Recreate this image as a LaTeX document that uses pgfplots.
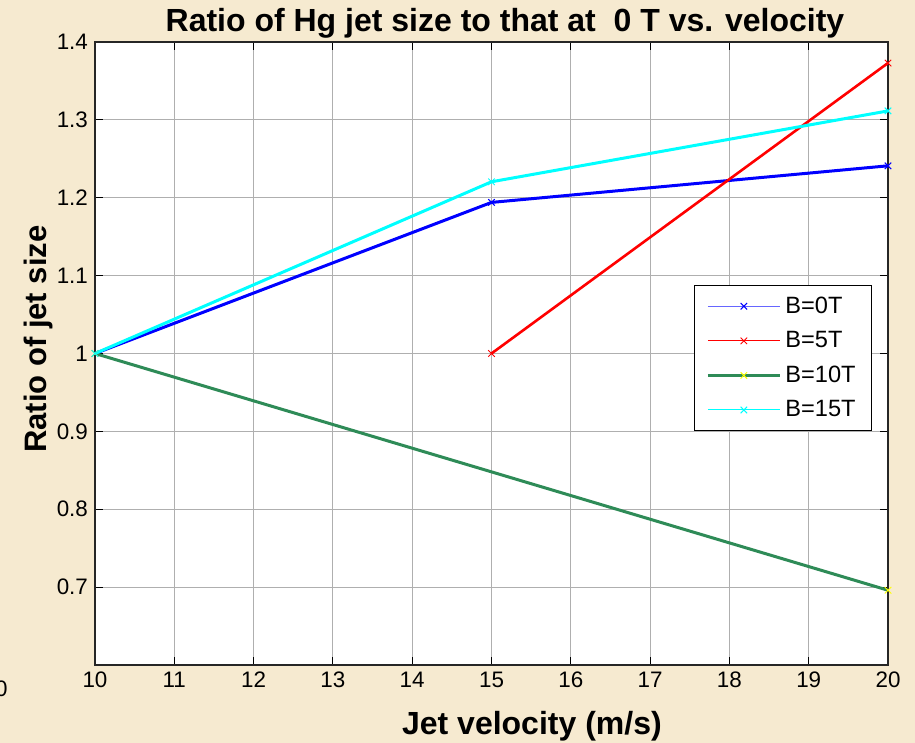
\documentclass[border=0pt]{standalone}
\usepackage{pgfplots}
\pgfplotsset{compat=1.18}
\usepackage{fontspec}
\setmainfont{Liberation Sans}
\definecolor{bgc}{RGB}{246,234,208}
\definecolor{mgreen}{RGB}{46,139,87}
\definecolor{gridc}{RGB}{175,175,175}
\definecolor{mcyan}{RGB}{0,255,255}
\definecolor{mblue}{RGB}{0,0,255}
\definecolor{mred}{RGB}{255,0,0}
\definecolor{myellow}{RGB}{255,255,0}
\begin{document}
\begin{tikzpicture}
\fill[bgc] (-47.5pt,-39pt) rectangle (410pt,332.5pt);
\begin{axis}[
  scale only axis,
  width=396.5pt, height=311.5pt,
  xmin=10, xmax=20, ymin=0.6, ymax=1.4,
  xtick={10,11,...,20},
  ytick={0.7,0.8,0.9,1.0,1.1,1.2,1.3,1.4},
  yticklabels={0.7,0.8,0.9,1,1.1,1.2,1.3,1.4},
  axis background/.style={fill=white},
  grid=major,
  major grid style={gridc, line width=0.5pt},
  tick align=inside,
  major tick length=4pt,
  tick style={black, line width=0.5pt},
  axis line style={black!85, line width=0.9pt},
  /pgf/number format/assume math mode=true,
  ticklabel style={font=\fontsize{11.2}{13}\selectfont},
  title={\textbf{Ratio of Hg jet size to that at\ \ 0 T vs. velocity}},
  title style={font=\fontsize{16}{18}\selectfont, at={(0.517,1)}, anchor=base, yshift=-1pt},
  xlabel={\textbf{Jet velocity (m/s)}},
  xlabel style={font=\fontsize{16}{18}\selectfont, at={(0.551,0)}, anchor=base, yshift=-35pt},
  ylabel={\textbf{Ratio of jet size}},
  ylabel style={font=\fontsize{15.5}{18}\selectfont, at={(0,0.523)}, anchor=base, rotate=0, yshift=24pt},
  legend style={at={(axis cs:19.8,1.088)}, anchor=north east, draw=black, line width=0.6pt,
    font=\fontsize{11.8}{13}\selectfont, inner xsep=6pt, inner ysep=3.5pt, row sep=3.6pt,
    legend cell align=left},
  legend image code/.code={\draw[#1] plot coordinates {(0pt,0pt) (18pt,0pt) (36pt,0pt)};},
]
\addplot[mblue, line width=1.5pt, mark=x, mark size=2.3pt, mark options={line width=0.5pt}, forget plot]
  coordinates {(10,1.0) (15,1.194) (20,1.241)};
\addplot[mred, line width=1.3pt, mark=x, mark size=2.3pt, mark options={line width=0.5pt}, forget plot]
  coordinates {(15,1.0) (20,1.373)};
\addplot[mgreen, line width=1.5pt, mark=x, mark size=2.3pt, mark options={myellow, line width=0.5pt}, forget plot]
  coordinates {(10,1.0) (20,0.696)};
\addplot[mcyan, line width=1.5pt, mark=x, mark size=2.3pt, mark options={line width=0.5pt}, forget plot]
  coordinates {(10,1.0) (15,1.2205) (20,1.3115)};
\addlegendimage{mblue!60, line width=0.8pt, mark=x, mark size=2.3pt, mark options={mblue, line width=0.5pt}, mark repeat=2, mark phase=2}
\addlegendentry{B=0T}
\addlegendimage{mred, line width=0.5pt, mark=x, mark size=2.3pt, mark options={line width=0.5pt}, mark repeat=2, mark phase=2}
\addlegendentry{B=5T}
\addlegendimage{mgreen, line width=1.5pt, mark=x, mark size=2.3pt, mark options={myellow, line width=0.5pt}, mark repeat=2, mark phase=2}
\addlegendentry{B=10T}
\addlegendimage{mcyan, line width=0.5pt, mark=x, mark size=2.3pt, mark options={line width=0.5pt}, mark repeat=2, mark phase=2}
\addlegendentry{B=15T}
\end{axis}
\node[anchor=base east, font=\fontsize{11.2}{13}\selectfont, inner sep=0pt] at (-43.5pt,-16pt) {10};
\pgfresetboundingbox
\path[use as bounding box] (-47.5pt,-39pt) rectangle (410pt,332.5pt);
\end{tikzpicture}
\end{document}
